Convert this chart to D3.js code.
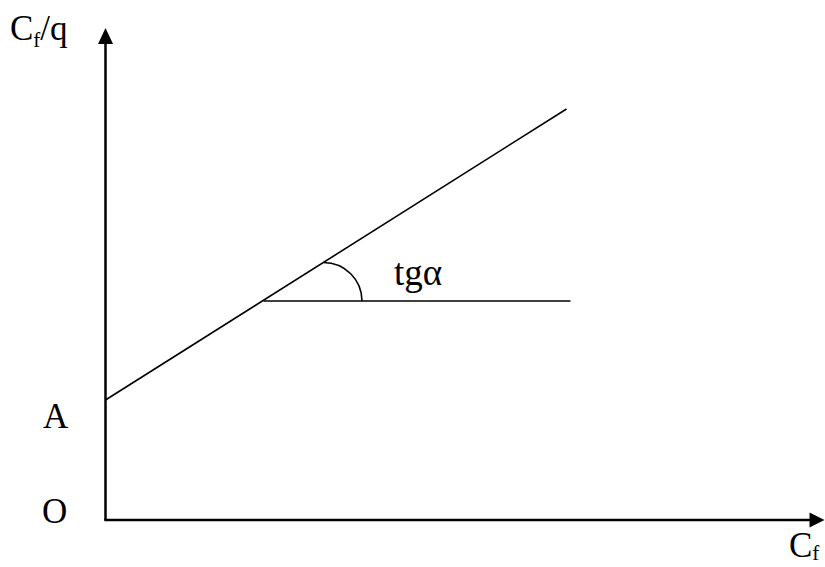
<!DOCTYPE html>
<html>
<head>
<meta charset="utf-8">
<script src="https://cdn.jsdelivr.net/npm/d3@7"></script>
<style>
  html, body { margin: 0; padding: 0; background: #fff; }
  svg { display: block; }
  text { font-family: "Liberation Serif", "DejaVu Serif", serif; fill: #000; }
</style>
</head>
<body>
<svg id="chart" width="825" height="567"></svg>
<script>
// ---- data (abstract units, origin O at 0,0) ----
const xDomain = [0, 719];           // x axis extent (arrow tip)
const yDomain = [0, 492];           // y axis extent (arrow tip)
const interceptA = 120;             // A: intercept on the Cf/q axis
const lineX = [0, 461];             // extent of straight line Cf/q = A + k*Cf
const lineY = [120, 411];
const horizX = [158, 465];          // horizontal reference line start/end
const horizY = 219;
const arcCenterX = 218;             // angle arc (quarter circle)
const arcRadius = 38.5;
const axisLabels = ["Cf/q", "Cf"];
const pointLabels = ["A", "O"];
const angleLabel = "tgα";

// ---- layout ----
const origin = { x: 105.5, y: 520 };
const svg = d3.select("#chart");

const x = d3.scaleLinear().domain(xDomain).range([origin.x, origin.x + 719]);
const y = d3.scaleLinear().domain(yDomain).range([origin.y, origin.y - 492]);

// axes
svg.append("line")
  .attr("x1", x(0)).attr("y1", y(0))
  .attr("x2", x(0)).attr("y2", y(yDomain[1]) + 12)
  .attr("stroke", "#000").attr("stroke-width", 2.5);
svg.append("line")
  .attr("x1", x(0) - 1.25).attr("y1", y(0))
  .attr("x2", x(xDomain[1]) - 12).attr("y2", y(0))
  .attr("stroke", "#000").attr("stroke-width", 2.5);

// arrowheads
const tipY = y(yDomain[1]), tipX = x(xDomain[1]);
svg.append("path")
  .attr("d", `M${x(0)},${tipY} L${x(0) - 7.5},${tipY + 16} L${x(0) + 7.5},${tipY + 16} Z`)
  .attr("fill", "#000");
svg.append("path")
  .attr("d", `M${tipX},${y(0)} L${tipX - 15},${y(0) - 7.5} L${tipX - 15},${y(0) + 7.5} Z`)
  .attr("fill", "#000");

// straight line
const lineGen = d3.line().x(d => x(d[0])).y(d => y(d[1]));
svg.append("path")
  .attr("d", lineGen([[lineX[0], lineY[0]], [lineX[1], lineY[1]]]))
  .attr("fill", "none").attr("stroke", "#000").attr("stroke-width", 1.6);

// horizontal line
svg.append("path")
  .attr("d", lineGen([[horizX[0], horizY], [horizX[1], horizY]]))
  .attr("fill", "none").attr("stroke", "#000").attr("stroke-width", 1.6);

// angle arc: quarter circle from the line down to the horizontal
const cx = x(arcCenterX), cy = y(horizY);
const arc = d3.arc().innerRadius(arcRadius).outerRadius(arcRadius)
  .startAngle(0).endAngle(Math.PI / 2);
svg.append("path")
  .attr("transform", `translate(${cx},${cy})`)
  .attr("d", arc())
  .attr("fill", "none").attr("stroke", "#000").attr("stroke-width", 1.6);

// labels
const fs = 35;
function subLabel(tx, ty, main, sub, rest, dy) {
  const t = svg.append("text").attr("x", tx).attr("y", ty).attr("font-size", fs);
  t.append("tspan").text(main);
  t.append("tspan").attr("font-size", 21).attr("dy", dy).text(sub);
  if (rest) t.append("tspan").attr("dy", -dy).text(rest);
}
const yl = axisLabels[0].split(/(f)/); // ["C","f","/q"]
subLabel(10, 40, yl[0], yl[1], yl[2], 7);
const xl = axisLabels[1].split(/(f)/);
subLabel(789, 557, xl[0], xl[1], null, 3);

svg.append("text").attr("x", 43).attr("y", y(interceptA) + 28)
  .attr("font-size", fs).text(pointLabels[0]);
svg.append("text").attr("x", 42).attr("y", 523)
  .attr("font-size", fs).text(pointLabels[1]);
svg.append("text").attr("x", 394).attr("y", 285)
  .attr("font-size", 37).text(angleLabel);
</script>
</body>
</html>
